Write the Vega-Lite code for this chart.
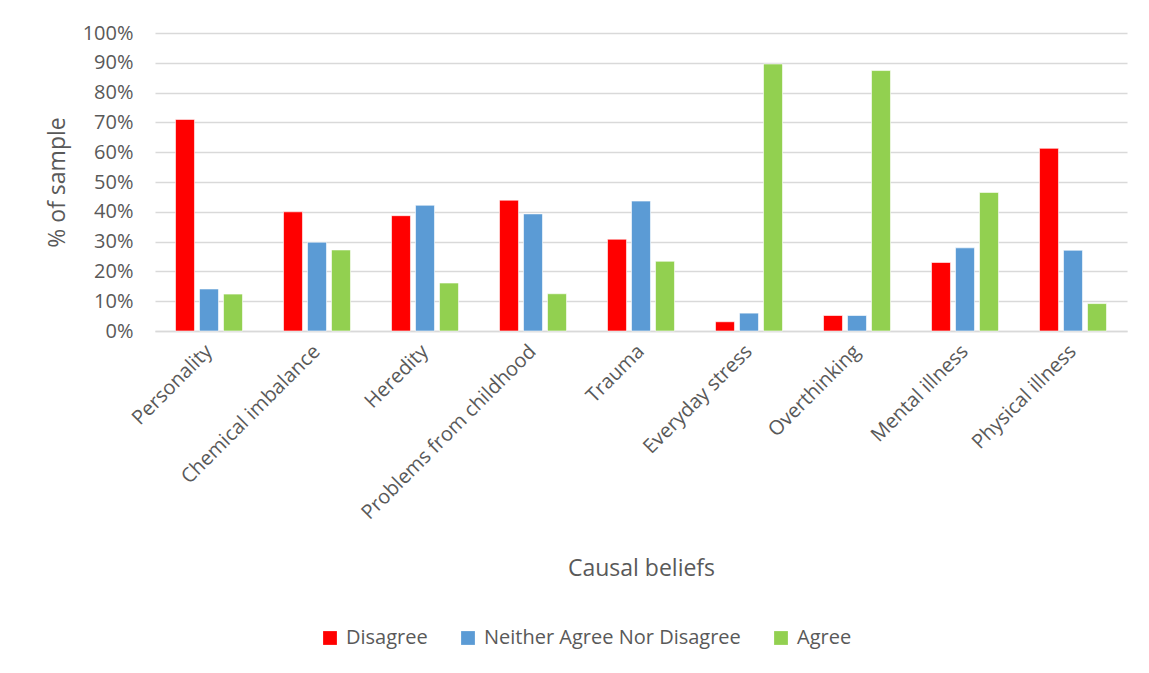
{
  "$schema": "https://vega.github.io/schema/vega-lite/v6.json",
  "autosize": "none",
  "width": 972,
  "height": 298,
  "padding": {"left": 155, "top": 33, "right": 22, "bottom": 342},
  "background": "white",
  "config": {
    "font": "Open Sans",
    "view": {"stroke": null},
    "axis": {"labelColor": "#595959", "titleColor": "#595959", "titleFontWeight": "normal"}
  },
  "data": {
    "values": [
      {"belief": "Personality", "response": "Disagree", "pct": 71.0},
      {"belief": "Personality", "response": "Neither Agree Nor Disagree", "pct": 14.1},
      {"belief": "Personality", "response": "Agree", "pct": 12.4},
      {"belief": "Chemical imbalance", "response": "Disagree", "pct": 40.0},
      {"belief": "Chemical imbalance", "response": "Neither Agree Nor Disagree", "pct": 29.8},
      {"belief": "Chemical imbalance", "response": "Agree", "pct": 27.2},
      {"belief": "Heredity", "response": "Disagree", "pct": 38.7},
      {"belief": "Heredity", "response": "Neither Agree Nor Disagree", "pct": 42.2},
      {"belief": "Heredity", "response": "Agree", "pct": 16.1},
      {"belief": "Problems from childhood", "response": "Disagree", "pct": 43.9},
      {"belief": "Problems from childhood", "response": "Neither Agree Nor Disagree", "pct": 39.3},
      {"belief": "Problems from childhood", "response": "Agree", "pct": 12.5},
      {"belief": "Trauma", "response": "Disagree", "pct": 30.8},
      {"belief": "Trauma", "response": "Neither Agree Nor Disagree", "pct": 43.6},
      {"belief": "Trauma", "response": "Agree", "pct": 23.4},
      {"belief": "Everyday stress", "response": "Disagree", "pct": 3.1},
      {"belief": "Everyday stress", "response": "Neither Agree Nor Disagree", "pct": 6.0},
      {"belief": "Everyday stress", "response": "Agree", "pct": 89.6},
      {"belief": "Overthinking", "response": "Disagree", "pct": 5.2},
      {"belief": "Overthinking", "response": "Neither Agree Nor Disagree", "pct": 5.2},
      {"belief": "Overthinking", "response": "Agree", "pct": 87.4},
      {"belief": "Mental illness", "response": "Disagree", "pct": 23.0},
      {"belief": "Mental illness", "response": "Neither Agree Nor Disagree", "pct": 27.9},
      {"belief": "Mental illness", "response": "Agree", "pct": 46.5},
      {"belief": "Physical illness", "response": "Disagree", "pct": 61.3},
      {"belief": "Physical illness", "response": "Neither Agree Nor Disagree", "pct": 27.1},
      {"belief": "Physical illness", "response": "Agree", "pct": 9.2}
    ]
  },
  "mark": {"type": "bar", "stroke": "white", "strokeWidth": 0.6},
  "encoding": {
    "x": {
      "field": "belief",
      "type": "nominal",
      "sort": null,
      "scale": {"paddingInner": 0.38, "paddingOuter": 0.19},
      "axis": {
        "title": "Causal beliefs",
        "titleFontSize": 23,
        "titleY": 237,
        "titleBaseline": "middle",
        "labelAngle": -45,
        "labelAlign": "right",
        "labelBaseline": "middle",
        "labelFontSize": 20,
        "labelPadding": 17,
        "ticks": false,
        "domainColor": "#d9d9d9",
        "domainWidth": 1.5,
        "labelLimit": 400
      }
    },
    "xOffset": {
      "field": "response",
      "type": "nominal",
      "sort": ["Disagree", "Neither Agree Nor Disagree", "Agree"],
      "scale": {"paddingInner": 0.21, "paddingOuter": 0}
    },
    "y": {
      "field": "pct",
      "type": "quantitative",
      "scale": {"domain": [0, 100], "nice": false},
      "axis": {
        "title": "% of sample",
        "titleFontSize": 23,
        "titleX": -98,
        "titleBaseline": "middle",
        "values": [0, 10, 20, 30, 40, 50, 60, 70, 80, 90, 100],
        "labelExpr": "datum.value + '%'",
        "labelFontSize": 20,
        "labelPadding": 22,
        "ticks": false,
        "domain": false,
        "gridColor": "#d9d9d9",
        "gridWidth": 1.5
      }
    },
    "color": {
      "field": "response",
      "type": "nominal",
      "sort": ["Disagree", "Neither Agree Nor Disagree", "Agree"],
      "scale": {
        "domain": ["Disagree", "Neither Agree Nor Disagree", "Agree"],
        "range": ["#ff0000", "#5b9bd5", "#92d050"]
      },
      "legend": {
        "title": null,
        "orient": "none",
        "direction": "horizontal",
        "legendX": 165,
        "legendY": 595,
        "symbolType": "square",
        "symbolSize": 190,
        "symbolStrokeWidth": 0,
        "labelFontSize": 20,
        "labelOffset": 6,
        "labelColor": "#595959",
        "columnPadding": 30,
        "labelLimit": 400
      }
    }
  }
}
